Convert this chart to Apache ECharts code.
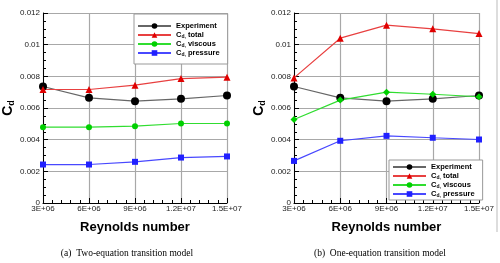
<!DOCTYPE html>
<html><head><meta charset="utf-8">
<script src="https://cdn.jsdelivr.net/npm/echarts@6/dist/echarts.min.js"></script>
<style>html,body{margin:0;padding:0;background:#fff}#c{width:500px;height:263px}</style>
</head><body><div id="c"></div>
<script>
// ---- data ----
const reynolds = [3e6, 6e6, 9e6, 1.2e7, 1.5e7];
const xTickValues = [3e6, 6e6, 9e6, 1.2e7, 1.5e7];
const xTickLabels = ['3E+06', '6E+06', '9E+06', '1.2E+07', '1.5E+07'];
const yTickValues = [0, 0.002, 0.004, 0.006, 0.008, 0.01, 0.012];
const yTickLabels = ['0', '0.002', '0.004', '0.006', '0.008', '0.01', '0.012'];
const experiment = [0.00736, 0.00664, 0.00643, 0.00658, 0.00679];
const totalA = [0.00717, 0.00717, 0.00744, 0.00786, 0.00795];
const viscousA = [0.00479, 0.00479, 0.00485, 0.00502, 0.00502];
const pressureA = [0.00243, 0.00243, 0.00260, 0.00287, 0.00294];
const totalB = [0.00790, 0.01041, 0.01123, 0.01100, 0.01070];
const viscousB = [0.00527, 0.00650, 0.00700, 0.00687, 0.00671];
const pressureB = [0.00266, 0.00393, 0.00424, 0.00412, 0.00401];
const captionA = '(a)  Two-equation transition model';
const captionB = '(b)  One-equation transition model';

const pairs = arr => arr.map((v, i) => [reynolds[i], v]);
const xFmt = v => { const i = xTickValues.findIndex(t => Math.abs(t - v) < 1); return i >= 0 ? xTickLabels[i] : ''; };
const yFmt = v => { const i = yTickValues.findIndex(t => Math.abs(t - v) < 1e-9); return i >= 0 ? yTickLabels[i] : ''; };
const font = 'Liberation Sans, Arial, sans-serif';

function xAxis(gi) {
  return {
    type: 'value', gridIndex: gi, min: 3e6, max: 1.5e7, interval: 3e6,
    name: 'Reynolds number', nameLocation: 'middle', nameGap: 18,
    nameTextStyle: { fontFamily: font, fontWeight: 'bold', fontSize: 13, color: '#000' },
    axisLine: { show: true, onZero: false, lineStyle: { color: '#000', width: 1 } },
    axisTick: { show: true, inside: true, length: 5, lineStyle: { color: '#000' } },
    minorTick: { show: true, splitNumber: 5, length: 3, lineStyle: { color: '#000' } },
    axisLabel: { formatter: xFmt, fontFamily: font, fontSize: 8, color: '#222', margin: 2, showMinLabel: true, showMaxLabel: true },
    splitLine: { show: true, lineStyle: { color: '#a8a8a8', width: 1.2 } }
  };
}
function yAxis(gi) {
  return {
    type: 'value', gridIndex: gi, min: 0, max: 0.012, interval: 0.002,
    name: '{c|C}{s|d}', nameLocation: 'middle', nameGap: 26, nameRotate: 90,
    nameTextStyle: { rich: {
      c: { fontFamily: font, fontWeight: 'bold', fontSize: 14, color: '#000' },
      s: { fontFamily: font, fontWeight: 'bold', fontSize: 9, color: '#000', verticalAlign: 'bottom', padding: [6, 0, 0, 0] }
    } },
    axisLine: { show: true, onZero: false, lineStyle: { color: '#000', width: 1 } },
    axisTick: { show: true, inside: true, length: 5, lineStyle: { color: '#000' } },
    minorTick: { show: true, splitNumber: 4, length: 3, lineStyle: { color: '#000' } },
    axisLabel: { formatter: yFmt, fontFamily: font, fontSize: 8, color: '#222', margin: 3 },
    splitLine: { show: true, lineStyle: { color: '#a8a8a8', width: 1.2 } }
  };
}
function series(gi, name, data, color, lineColor, symbol, size) {
  return {
    type: 'line', name, xAxisIndex: gi, yAxisIndex: gi, data: pairs(data),
    symbol, symbolSize: size, showAllSymbol: true, animation: false,
    itemStyle: { color }, lineStyle: { color: lineColor, width: 1.2 }
  };
}
const names = ['Experiment', 'Cd total', 'Cd viscous', 'Cd pressure'];
const legendFmt = n => n === 'Experiment' ? '{t|Experiment}' : '{c|C}{s|d,}{t| ' + n.split(' ')[1] + '}';
function legend(pos) {
  return Object.assign({
    orient: 'vertical', data: names, formatter: legendFmt,
    backgroundColor: '#fff', borderColor: '#999', borderWidth: 1,
    itemGap: 1, itemWidth: 33, itemHeight: 7,
    textStyle: { lineHeight: 8, rich: {
      t: { fontFamily: font, fontWeight: 'bold', fontSize: 7.5, color: '#000', lineHeight: 8 },
      c: { fontFamily: font, fontWeight: 'bold', fontSize: 7.5, color: '#000', lineHeight: 8 },
      s: { fontFamily: font, fontWeight: 'bold', fontSize: 5, color: '#000', lineHeight: 8, verticalAlign: 'bottom' }
    } }
  }, pos);
}

const option = {
  animation: false,
  backgroundColor: '#fff',
  grid: [
    { left: 43, top: 13, width: 184, height: 190, containLabel: false },
    { left: 294, top: 13, width: 185, height: 190, containLabel: false }
  ],
  xAxis: [xAxis(0), xAxis(1)],
  yAxis: [yAxis(0), yAxis(1)],
  legend: [
    legend({ left: 134, top: 14, padding: [8, 8, 7, 3] }),
    legend({ left: 389, top: 160, padding: [3, 8, 2, 3] })
  ],
  title: [
    { text: captionA, left: 122, top: 243, textAlign: 'center', textStyle: { fontFamily: 'Liberation Serif, Times New Roman, serif', fontWeight: 'normal', fontSize: 9.5, color: '#000' } },
    { text: captionB, left: 375, top: 243, textAlign: 'center', textStyle: { fontFamily: 'Liberation Serif, Times New Roman, serif', fontWeight: 'normal', fontSize: 9.5, color: '#000' } }
  ],
  graphic: [{ type: 'line', shape: { x1: 497, y1: 0, x2: 497, y2: 232 }, style: { stroke: '#bbb', lineWidth: 1 } }],
  series: [
    series(0, 'Experiment', experiment, '#000', '#666', 'circle', 8),
    series(0, 'Cd total', totalA, '#e00000', '#e84040', 'triangle', 7),
    series(0, 'Cd viscous', viscousA, '#00d000', '#30dd30', 'circle', 6),
    series(0, 'Cd pressure', pressureA, '#2020ff', '#4848ff', 'rect', 6),
    series(1, 'Experiment', experiment, '#000', '#666', 'circle', 8),
    series(1, 'Cd total', totalB, '#e00000', '#e84040', 'triangle', 7),
    series(1, 'Cd viscous', viscousB, '#00d000', '#30dd30', 'diamond', 7),
    series(1, 'Cd pressure', pressureB, '#2020ff', '#4848ff', 'rect', 6)
  ]
};
echarts.init(document.getElementById('c'), null, { renderer: 'canvas' }).setOption(option);
</script></body></html>
